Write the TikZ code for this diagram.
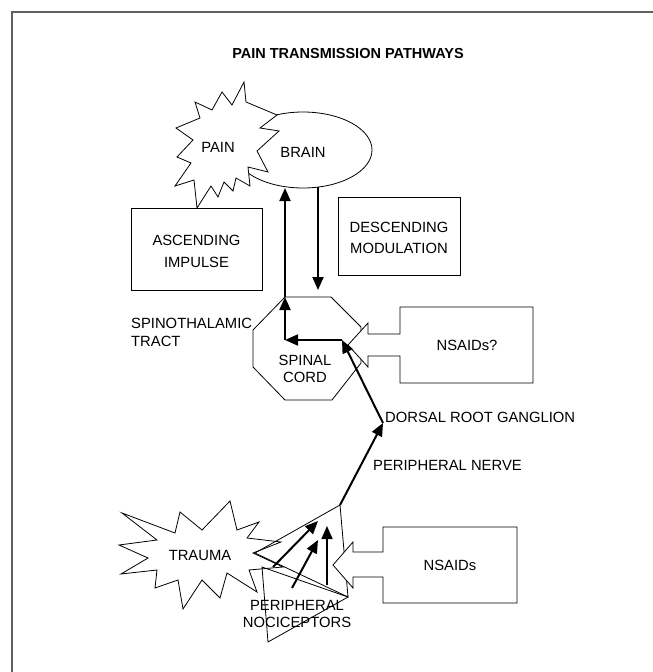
\documentclass[tikz,border=0pt]{standalone}
\usepackage{fontspec}
\setmainfont{Liberation Sans}
\usetikzlibrary{arrows.meta,shapes.geometric}
\begin{document}
\begin{tikzpicture}[x=1pt,y=-1pt,
  outline/.style={draw=black,line width=0.8pt,line join=miter},
  burst/.style={outline,fill=white},
  boxshape/.style={outline,fill=white},
  label/.style={font=\fontsize{14.8}{21}\selectfont,inner sep=0pt,align=center},
  tight/.style={font=\fontsize{14.8}{17}\selectfont},
  path/.style={line width=2pt,-{Triangle[length=13pt,width=11pt]}},
  thin path/.style={line width=1.6pt,-{Triangle[length=13pt,width=11pt]}}]
\useasboundingbox (0,0) rectangle (653,672);
\fill[white] (0,0) rectangle (653,672);
% open frame: top and left rules
\draw[gray!75!black,line width=2pt] (12,672) -- (12,12) -- (653,12);

% title
\node[label,font=\fontsize{14.5}{17}\selectfont\bfseries] (title) at (348,54) {PAIN TRANSMISSION PATHWAYS};

% brain with the pain burst overlapping it
\node[outline,ellipse,minimum width=138pt,minimum height=76pt,inner sep=0pt] (brain) at (303,150) {};
\filldraw[burst] (176,128) -- (200,118) -- (195,102) -- (212,110) -- (222,92) -- (232,105)
  -- (244,82) -- (246,102) -- (277,115) -- (260,128) -- (279,131) -- (257,151)
  -- (268,172) -- (248,167) -- (250,186) -- (236,178)
  -- (233,191) -- (224,182) -- (218,197) -- (211,186) -- (197,208) -- (194,180)
  -- (175,186) -- (191,163) -- (177,157) -- (193,140) -- cycle;
\node[label] (pain) at (218,147) {PAIN};
\node[label] (braintext) at (303,152) {BRAIN};

% modulation boxes
\draw[outline] (131,208) rectangle (262,290);
\node[label,font=\fontsize{14.8}{22}\selectfont] (ascending) at (196.5,251) {ASCENDING\\IMPULSE};
\draw[outline] (338,197) rectangle (460,275);
\node[label] (descending) at (399,238) {DESCENDING\\MODULATION};

% spinal cord
\draw[outline] (285,297) -- (331,297) -- (361,327) -- (361,363) -- (332,400)
  -- (285,400) -- (253,367) -- (253,330) -- cycle;
\node[label,tight] (cord) at (305,368.5) {SPINAL\\CORD};
\node[label,font=\fontsize{14.8}{18}\selectfont,anchor=west,align=left] (tract) at (131,332) {SPINOTHALAMIC\\TRACT};

% NSAIDs? acting on the spinal cord
\draw[boxshape] (348,345) -- (368,323) -- (368,334) -- (400,334) -- (400,307)
  -- (533,307) -- (533,383) -- (400,383) -- (400,356) -- (368,356) -- (368,367) -- cycle;
\node[label] (nsaidq) at (467,345) {NSAIDs?};

% pathway points
\coordinate (brainin) at (285,188);
\coordinate (cordtop) at (285,297);
\coordinate (cordturn) at (285,340);
\coordinate (cordin) at (342,340);
\coordinate (drg) at (383,423);
\coordinate (nerve) at (340,505);
\coordinate (brainout) at (318,187);
\coordinate (descend) at (318,290);

% ascending and descending pathways
\draw[path] (cordin) -- (cordturn);
\draw[path] (cordturn) -- (cordtop);
\draw[path] (cordtop) -- (brainin);
\draw[path] (brainout) -- (descend);
\draw[path] (drg) -- (cordin);
\draw[path] (nerve) -- (drg);

\node[label,anchor=west] (drglabel) at (385,417) {DORSAL ROOT GANGLION};
\node[label,anchor=west] (nervelabel) at (373,465) {PERIPHERAL NERVE};

% trauma burst
\filldraw[burst] (122,513) -- (175,533) -- (180,512) -- (202,530) -- (230,501)
  -- (237,530) -- (259,522) -- (247,538) -- (281,542) -- (253,553) -- (283,567)
  -- (249,570) -- (257,592) -- (227,573) -- (220,598) -- (202,580) -- (183,609)
  -- (178,580) -- (155,588) -- (157,570) -- (121,574) -- (148,558) -- (119,545)
  -- (157,540) -- cycle;
\node[label] (trauma) at (200,555) {TRAUMA};

% peripheral nociceptor field
\draw[outline] (340,505) -- (255,553) -- (348,597) -- cycle;
\draw[outline] (262,567) -- (348,597) -- (268,642) -- cycle;

% nociceptor signals
\coordinate (n1s) at (273,567);
\coordinate (n1e) at (318,521);
\coordinate (n2s) at (292,588);
\coordinate (n2e) at (318,540);
\coordinate (n3s) at (327,585);
\coordinate (n3e) at (327,526);
\draw[path] (n1s) -- (n1e);
\draw[path] (n2s) -- (n2e);
\draw[thin path] (n3s) -- (n3e);

% NSAIDs acting on the periphery
\draw[boxshape] (333,565) -- (353,542) -- (353,552) -- (383,552) -- (383,527)
  -- (517,527) -- (517,603) -- (383,603) -- (383,577) -- (353,577) -- (353,588) -- cycle;
\node[label] (nsaid) at (450,565) {NSAIDs};

\node[label,tight] (nociceptors) at (297,613.5) {PERIPHERAL\\NOCICEPTORS};
\end{tikzpicture}
\end{document}
